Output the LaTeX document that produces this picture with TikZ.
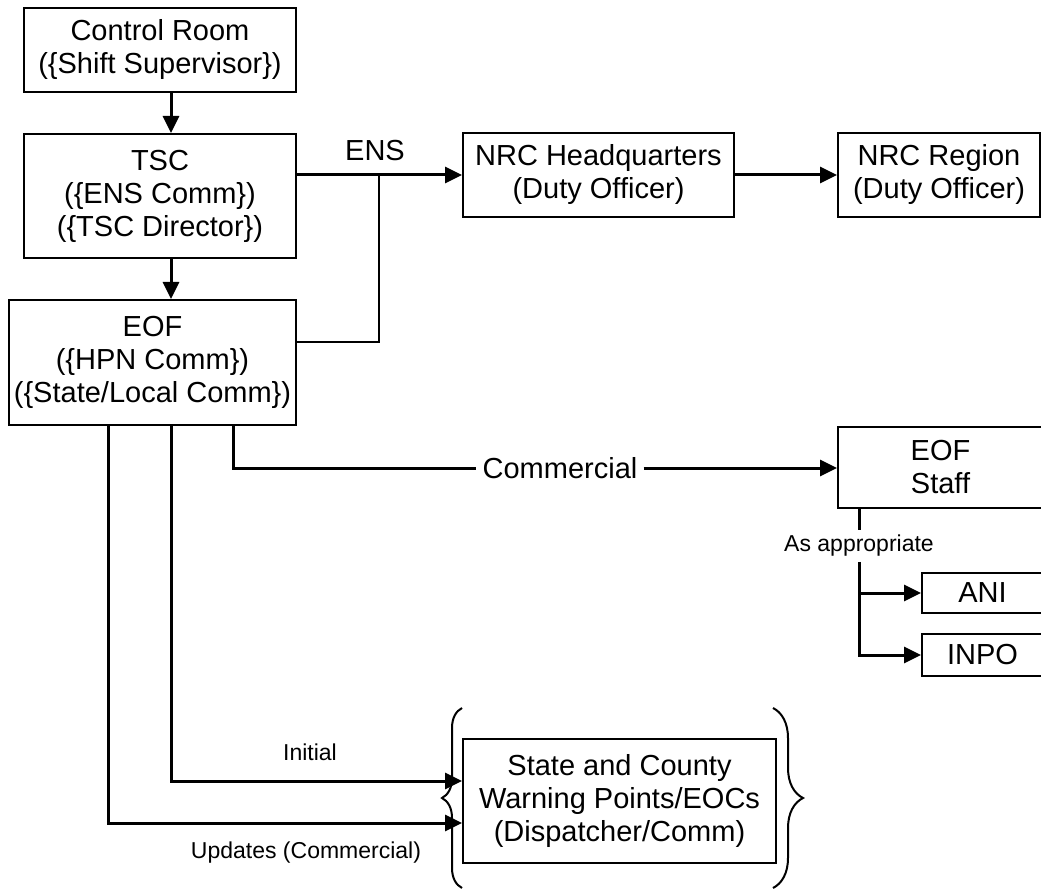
\documentclass[tikz,border=0pt]{standalone}
\usepackage{fontspec}
\setmainfont{Liberation Sans}
\usetikzlibrary{arrows.meta,decorations.pathreplacing}
\begin{document}
\begin{tikzpicture}[x=1pt,y=-1pt,
  box/.style={draw, line width=2pt, inner sep=0pt, align=center, font=\fontsize{29}{33}\selectfont},
  conn/.style={line width=3pt},
  thinconn/.style={line width=2pt},
  arr/.style={line width=3pt, -{Triangle[length=17pt,width=16pt]}},
  lbl/.style={font=\fontsize{29}{33}\selectfont, inner sep=2pt},
  small/.style={font=\fontsize{23}{27}\selectfont, inner sep=2pt},
  bracestyle/.style={line width=2pt, decorate}
]
\useasboundingbox (0,0) rectangle (1041,893);
% boxes
\node[box, minimum width=272pt, minimum height=84pt] (CR) at (160,50) {Control Room\\(\{Shift Supervisor\})};
\node[box, minimum width=272pt, minimum height=124pt] (TSC) at (160,196) {TSC\\(\{ENS Comm\})\\(\{TSC Director\})};
\node[box, minimum width=287pt, minimum height=125pt] (EOF) at (152.5,362.5) {EOF\\(\{HPN Comm\})\\(\{State/Local Comm\})};
\node[box, minimum width=271pt, minimum height=84pt] (HQ) at (598.5,175) {NRC Headquarters\\(Duty Officer)};
\node[box, minimum width=202pt, minimum height=84pt] (Reg) at (939,175) {NRC Region\\(Duty Officer)};
\node[box, minimum width=205pt, minimum height=81pt] (Staff) at (940.5,467.5) {EOF\\Staff};
\node[box, minimum width=121pt, minimum height=40pt] (ANI) at (982.5,593) {ANI};
\node[box, minimum width=121pt, minimum height=42pt] (INPO) at (982.5,655) {INPO};
\node[box, minimum width=313pt, minimum height=124pt] (SC) at (619.5,801) {State and County\\Warning Points/EOCs\\(Dispatcher/Comm)};
% helper coordinates
\coordinate (xA) at (171,0);
\coordinate (xL) at (108,0);
\coordinate (xC) at (233,0);
\coordinate (xS) at (859,0);
\coordinate (yE) at (0,342);
\coordinate (yI) at (0,781);
\coordinate (yU) at (0,823);
\coordinate (J) at (379,175);
% vertical chain
\draw[arr] (CR.south -| xA) -- (TSC.north -| xA);
\draw[arr] (TSC.south -| xA) -- (EOF.north -| xA);
% ENS
\draw[arr] (TSC.east |- HQ.west) -- (HQ.west);
\node[lbl] (ENS) at (375,151) {ENS};
\draw[thinconn] (EOF.east |- yE) -| (J);
\draw[arr] (HQ.east) -- (Reg.west);
% Commercial
\node[lbl, inner xsep=6pt] (Comm) at (560,468) {Commercial};
\draw[conn] (EOF.south -| xC) |- (Comm.west);
\draw[arr] (Comm.east) -- (Comm.east -| Staff.west);
% As appropriate
\node[small, inner ysep=5pt] (AP) at (859,546) {As appropriate};
\draw[conn] (Staff.south -| xS) -- (AP.north -| xS);
\draw[arr] (AP.south -| xS) |- (INPO.west);
\draw[arr] (xS |- ANI.west) -- (ANI.west);
% Initial / Updates
\draw[arr] (EOF.south -| xA) |- (SC.west |- yI);
\draw[arr] (EOF.south -| xL) |- (SC.west |- yU);
\node[small] (Init) at (310,752) {Initial};
\node[small] (Upd) at (306,853) {Updates (Commercial)};
% braces
\draw[bracestyle, decoration={brace, amplitude=20pt}] (462,888) -- (462,708);
\draw[bracestyle, decoration={brace, amplitude=30pt}] (773,708) -- (773,888);
\end{tikzpicture}
\end{document}
